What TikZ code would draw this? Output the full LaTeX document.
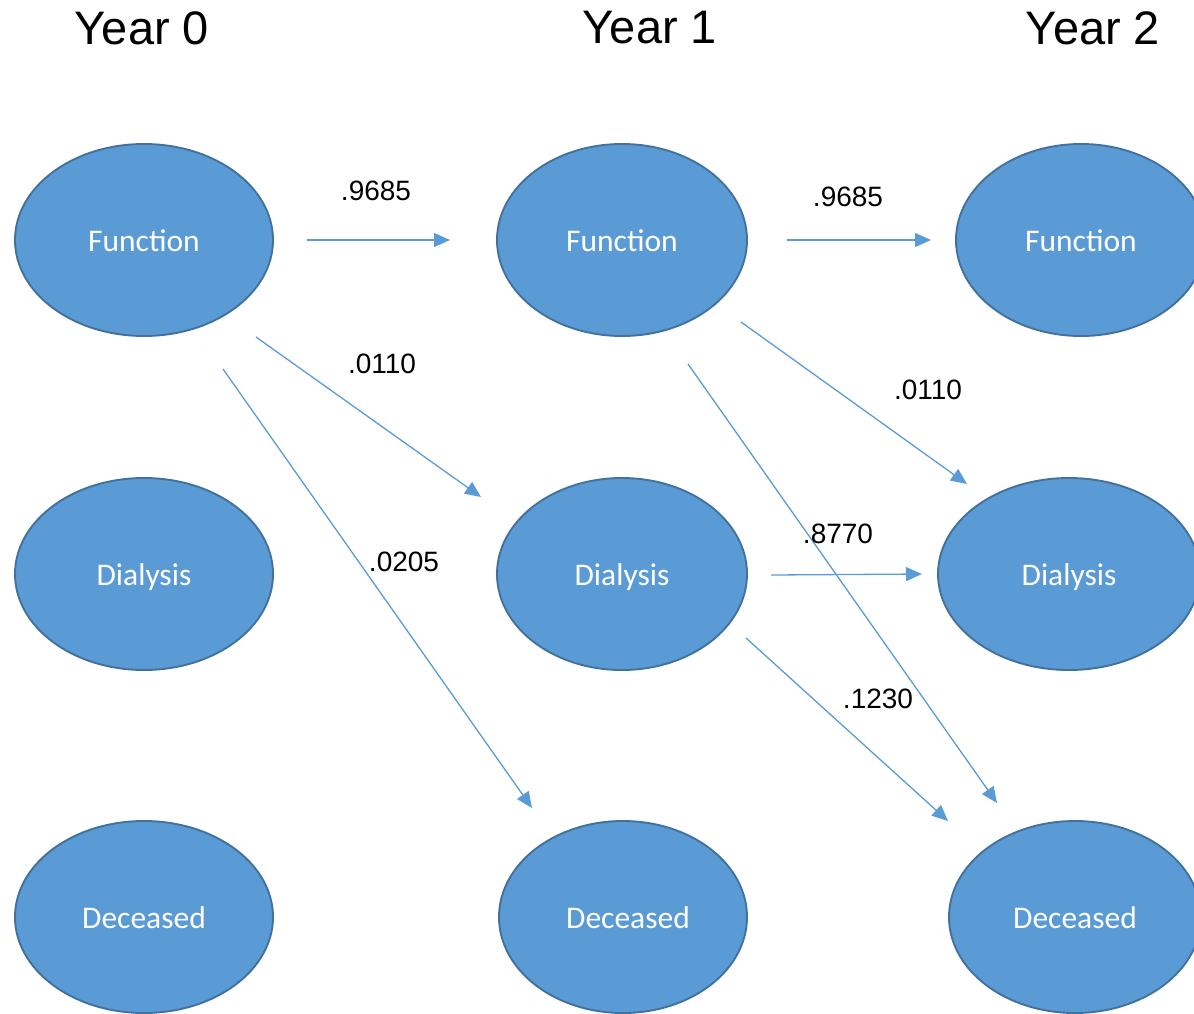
\documentclass[tikz,border=0pt]{standalone}
\usepackage{fontspec}
\setmainfont{Liberation Sans}
\newfontfamily\calib{Carlito}
\usetikzlibrary{shapes.geometric,arrows.meta}
\definecolor{fillblue}{HTML}{5B9BD5}
\definecolor{edgeblue}{HTML}{41719C}
\tikzset{
  state/.style={ellipse, fill=fillblue, draw=edgeblue, line width=1.9pt,
    minimum width=258pt, minimum height=192pt, inner sep=0pt,
    text height=23pt, text depth=0pt,
    text=white, font=\calib\fontsize{31.5}{36}\selectfont},
  trans/.style={draw=fillblue, line width=1.3pt,
    -{Triangle[length=16pt,width=14pt]}},
  prob/.style={font=\fontsize{28}{32}\selectfont, inner sep=0pt},
  yearlbl/.style={font=\fontsize{47}{52}\selectfont, inner sep=0pt}
}
\begin{document}
\begin{tikzpicture}[x=1pt,y=-1pt]
\useasboundingbox (0,0) rectangle (1194,1013);
\clip (0,0) rectangle (1194,1013);
% year labels
\node[yearlbl] (y0) at (142,28) {Year 0};
\node[yearlbl] (y1) at (650,28) {Year 1};
\node[yearlbl] (y2) at (1093,28) {Year 2};
% states
\node[state] (f0) at (144,240) {Function};
\node[state, minimum width=250pt] (f1) at (622,240) {Function};
\node[state, minimum width=250pt] (f2) at (1081,240) {Function};
\node[state] (d0) at (144,574) {Dialysis};
\node[state, minimum width=250pt] (d1) at (622,574) {Dialysis};
\node[state, minimum width=262pt] (d2) at (1069,574) {Dialysis};
\node[state] (x0) at (144,917) {Deceased};
\node[state, minimum width=248pt] (x1) at (623,917) {\hspace*{10pt}Deceased};
\node[state, minimum width=252pt] (x2) at (1075,917) {Deceased};
% connector end points
\coordinate (a1s) at (307,240); \coordinate (a1e) at (450,240);
\coordinate (a2s) at (787,240); \coordinate (a2e) at (931,240);
\coordinate (a3s) at (256,337); \coordinate (a3e) at (481,497);
\coordinate (a4s) at (741,322); \coordinate (a4e) at (967,484);
\coordinate (a5s) at (223,369); \coordinate (a5e) at (532,808);
\coordinate (a6s) at (688,364); \coordinate (a6e) at (997,803);
\coordinate (a7s) at (771,575); \coordinate (a7e) at (922,574);
\coordinate (a8s) at (746,638); \coordinate (a8e) at (948,821);
\draw[trans] (a1s) -- (a1e);
\draw[trans] (a2s) -- (a2e);
\draw[trans] (a3s) -- (a3e);
\draw[trans] (a4s) -- (a4e);
\draw[trans] (a5s) -- (a5e);
\draw[trans] (a6s) -- (a6e);
\draw[trans] (a7s) -- (a7e);
\draw[trans] (a8s) -- (a8e);
% probabilities
\node[prob] (p1) at (376,191) {.9685};
\node[prob] (p2) at (848,197) {.9685};
\node[prob] (p3) at (382,364) {.0110};
\node[prob] (p4) at (928,390) {.0110};
\node[prob] (p5) at (404,562) {.0205};
\node[prob] (p6) at (838,534) {.8770};
\node[prob] (p7) at (878,699) {.1230};
\end{tikzpicture}
\end{document}
